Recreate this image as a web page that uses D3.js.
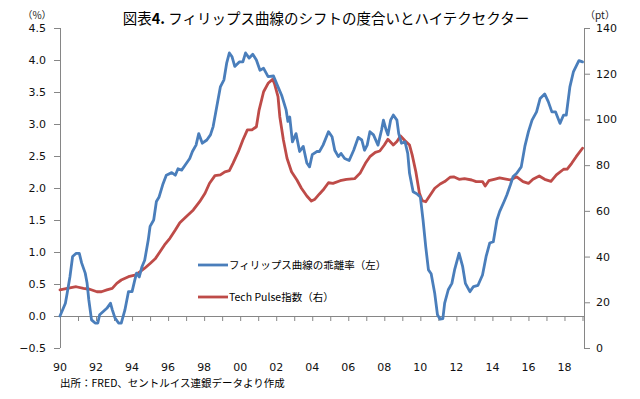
<!DOCTYPE html>
<html>
<head>
<meta charset="utf-8">
<script src="https://cdn.jsdelivr.net/npm/d3@7/dist/d3.min.js"></script>
<style>
  html, body { margin: 0; padding: 0; background: #fff; }
  svg { display: block; }
</style>
</head>
<body>
<svg id="chart" width="640" height="399"></svg>
<script>
// ---- data (decimal year, value) ----
const phillipsYears = [1990.0,1990.3,1990.4,1990.55,1990.7,1990.9,1991.07,1991.2,1991.4,1991.5,1991.6,1991.75,1991.95,1992.1,1992.2,1992.4,1992.6,1992.8,1992.9,1993.05,1993.25,1993.4,1993.6,1993.8,1994.0,1994.15,1994.25,1994.4,1994.55,1994.7,1994.9,1995.0,1995.2,1995.35,1995.5,1995.7,1995.9,1996.2,1996.4,1996.55,1996.75,1996.95,1997.2,1997.35,1997.55,1997.7,1997.9,1998.15,1998.35,1998.5,1998.7,1998.9,1999.1,1999.25,1999.4,1999.55,1999.7,1999.95,2000.15,2000.3,2000.5,2000.7,2000.9,2001.1,2001.3,2001.55,2001.85,2002.1,2002.3,2002.55,2002.65,2002.75,2002.9,2003.1,2003.3,2003.5,2003.7,2003.85,2004.0,2004.25,2004.4,2004.6,2004.9,2005.1,2005.25,2005.45,2005.6,2005.8,2006.05,2006.3,2006.55,2006.75,2006.9,2007.05,2007.2,2007.4,2007.65,2007.85,2007.95,2008.1,2008.2,2008.35,2008.5,2008.7,2008.8,2008.95,2009.15,2009.3,2009.4,2009.6,2009.8,2010.0,2010.15,2010.3,2010.45,2010.6,2010.8,2010.95,2011.1,2011.25,2011.35,2011.55,2011.75,2011.9,2012.15,2012.35,2012.5,2012.75,2012.95,2013.2,2013.45,2013.65,2013.85,2014.05,2014.25,2014.4,2014.65,2014.8,2015.0,2015.15,2015.35,2015.6,2015.8,2016.0,2016.2,2016.45,2016.65,2016.9,2017.1,2017.3,2017.5,2017.75,2017.95,2018.1,2018.3,2018.5,2018.8,2019.0];
const phillipsValues = [0.0,0.2,0.36,0.61,0.93,0.98,0.98,0.83,0.67,0.52,0.25,-0.06,-0.11,-0.11,0.02,0.07,0.12,0.2,0.1,-0.03,-0.11,-0.11,0.09,0.38,0.38,0.56,0.67,0.61,0.77,0.87,1.19,1.40,1.5,1.79,1.86,2.05,2.2,2.24,2.2,2.3,2.28,2.36,2.46,2.57,2.67,2.85,2.70,2.75,2.83,2.96,3.27,3.58,3.69,3.95,4.11,4.05,3.9,3.97,3.97,4.11,4.03,4.09,4.0,3.84,3.87,3.74,3.75,3.58,3.45,3.22,3.04,3.11,2.72,2.85,2.57,2.65,2.39,2.33,2.52,2.57,2.57,2.67,2.88,2.80,2.59,2.49,2.54,2.46,2.43,2.59,2.79,2.75,2.59,2.67,2.88,2.83,2.67,2.91,3.06,2.91,2.83,3.06,3.14,3.06,2.85,2.70,2.72,2.54,2.23,1.94,1.91,1.86,1.5,1.08,0.72,0.66,0.35,0.02,-0.05,-0.04,0.2,0.41,0.51,0.72,0.98,0.77,0.51,0.38,0.46,0.48,0.64,0.93,1.14,1.16,1.5,1.63,1.79,1.89,2.05,2.18,2.23,2.33,2.65,2.88,3.06,3.19,3.40,3.47,3.35,3.19,3.19,3.01,3.14,3.14,3.58,3.82,3.99,3.97];

const techYears = [1990.0,1990.4,1990.9,1991.3,1991.65,1992.05,1992.3,1992.6,1992.9,1993.15,1993.4,1993.8,1994.15,1994.45,1994.7,1995.0,1995.3,1995.55,1995.8,1996.1,1996.4,1996.65,1997.0,1997.4,1997.75,1998.05,1998.3,1998.6,1998.9,1999.15,1999.4,1999.6,1999.9,2000.15,2000.4,2000.65,2000.9,2001.05,2001.3,2001.55,2001.8,2001.9,2002.1,2002.2,2002.4,2002.6,2002.85,2003.15,2003.4,2003.7,2003.95,2004.15,2004.4,2004.6,2004.9,2005.15,2005.55,2005.9,2006.35,2006.65,2006.95,2007.2,2007.5,2007.75,2008.0,2008.2,2008.5,2008.7,2008.9,2009.15,2009.4,2009.55,2009.75,2009.95,2010.1,2010.3,2010.55,2010.8,2011.1,2011.35,2011.65,2011.85,2012.15,2012.45,2012.85,2013.1,2013.45,2013.6,2013.8,2014.15,2014.4,2014.75,2015.0,2015.35,2015.7,2016.0,2016.25,2016.6,2016.9,2017.25,2017.55,2017.95,2018.15,2018.4,2018.65,2019.0];
const techValues = [25.4,26.1,26.8,26.1,25.7,24.6,24.6,25.4,26.1,28.3,29.75,31.2,31.9,33.4,34.9,37.0,39.2,42.1,45.1,48.0,51.6,54.8,57.4,60.4,64.0,67.7,72.1,75.4,75.7,77.1,77.6,80.8,85.9,91.0,95.4,95.4,96.8,104.1,112.1,115.8,117.5,115.8,110,101.2,91.0,83.0,77.1,73.5,69.9,66.5,64.3,65.1,67.4,69.1,72.3,72.0,73.2,73.8,74.1,76.4,80.8,83.7,85.6,86.2,88.8,91.3,88.8,90.3,92.75,90.7,88.8,84.4,77.1,67.7,64.5,64.0,66.9,69.9,71.75,72.8,74.7,74.9,73.8,74.1,73.5,72.8,72.8,70.9,73.2,73.9,74.4,73.9,73.5,74.9,72.8,72.0,73.8,75.25,73.8,72.9,75.7,78.2,78.3,80.8,83.7,87.4];

const leftTicks = [-0.5,0.0,0.5,1.0,1.5,2.0,2.5,3.0,3.5,4.0,4.5];
const rightTicks = [0,20,40,60,80,100,120,140];
const yearTicks = d3.range(1990, 2020, 1);
const yearLabels = ["90","92","94","96","98","00","02","04","06","08","10","12","14","16","18"];

const titleParts = ["図表", "4.", " フィリップス曲線のシフトの度合いとハイテクセクター"];
const seriesNames = ["フィリップス曲線の乖離率（左）", "Tech Pulse指数（右）"];
const source = "出所：FRED、セントルイス連銀データより作成";

// ---- layout ----
const svg = d3.select("#chart");
const L = 60, R = 584, T = 28, B = 348;
const axisColor = "#868686";
const blue = "#4A7EBB", red = "#BE4B48";
const numFont = "'DejaVu Sans', Verdana, sans-serif";
const jpFont = "'Noto Sans CJK JP', 'Noto Sans', sans-serif";

const x = d3.scaleLinear().domain([1990, 1990 + 349/12]).range([L, R]);
const yL = d3.scaleLinear().domain([-0.5, 4.5]).range([B, T]);
const yR = d3.scaleLinear().domain([0, 140]).range([B, T]);

// left axis
const gL = svg.append("g").attr("transform", `translate(${L},0)`)
  .call(d3.axisLeft(yL).tickValues(leftTicks).tickSize(6).tickPadding(8).tickFormat(d3.format(".1f")));
// right axis
const gR = svg.append("g").attr("transform", `translate(${R},0)`)
  .call(d3.axisRight(yR).tickValues(rightTicks).tickSize(6).tickPadding(6).tickFormat(d3.format("d")));
[gL, gR].forEach(g => {
  g.select(".domain").attr("stroke", axisColor).attr("stroke-width", 1).attr("d", `M0.5,${T}V${B}`);
  g.selectAll(".tick line").attr("stroke", axisColor);
  g.selectAll(".tick text").attr("fill", "#111").style("font-family", numFont).style("font-size", "11px");
});

// x axis at y=0
const y0 = yL(0);
const gX = svg.append("g").attr("transform", `translate(0,${y0})`)
  .call(d3.axisBottom(x).tickValues(yearTicks).tickSize(5).tickFormat(""));
gX.select(".domain").attr("stroke", axisColor).attr("d", `M${L},0.5H${R}`);
gX.selectAll(".tick line").attr("stroke", axisColor);

// x labels
svg.append("g").selectAll("text").data(yearLabels).join("text")
  .attr("x", (d, i) => x(1990 + 2*i))
  .attr("y", 371)
  .attr("text-anchor", "middle")
  .attr("fill", "#111")
  .style("font-family", numFont).style("font-size", "11px")
  .text(d => d);

// lines
const lineL = d3.line().x(d => x(d[0])).y(d => yL(d[1]));
const lineR = d3.line().x(d => x(d[0])).y(d => yR(d[1]));
svg.append("path").datum(d3.zip(techYears, techValues))
  .attr("d", lineR).attr("fill", "none").attr("stroke", red).attr("stroke-width", 2.8)
  .attr("stroke-linejoin", "round").attr("stroke-linecap", "round");
svg.append("path").datum(d3.zip(phillipsYears, phillipsValues))
  .attr("d", lineL).attr("fill", "none").attr("stroke", blue).attr("stroke-width", 2.8)
  .attr("stroke-linejoin", "round").attr("stroke-linecap", "round");

// title
const tt = svg.append("text").attr("x", 326).attr("y", 24).attr("text-anchor", "middle")
  .style("font-family", jpFont).style("font-size", "14.5px").attr("fill", "#000");
titleParts.forEach((p, i) => tt.append("tspan").attr("font-weight", i === 1 ? "bold" : "normal").text(p));

// unit labels
svg.append("text").attr("x", 37).attr("y", 19).attr("text-anchor", "middle")
  .style("font-family", jpFont).style("font-size", "10px").attr("fill", "#222").text("（%）");
svg.append("text").attr("x", 600).attr("y", 19).attr("text-anchor", "middle")
  .style("font-family", jpFont).style("font-size", "10px").attr("fill", "#222").text("（pt）");

// legend
const legend = svg.append("g");
[[blue, 265], [red, 297]].forEach(([c, yy], i) => {
  legend.append("line").attr("x1", 198).attr("x2", 228).attr("y1", yy).attr("y2", yy)
    .attr("stroke", c).attr("stroke-width", 2.8);
  legend.append("text").attr("x", 229).attr("y", yy + 4)
    .style("font-family", jpFont).style("font-size", "10.5px").attr("fill", "#000")
    .text(seriesNames[i]);
});

// source
svg.append("text").attr("x", 60).attr("y", 387)
  .style("font-family", jpFont).style("font-size", "10.5px").attr("fill", "#000")
  .text(source);
</script>
</body>
</html>
